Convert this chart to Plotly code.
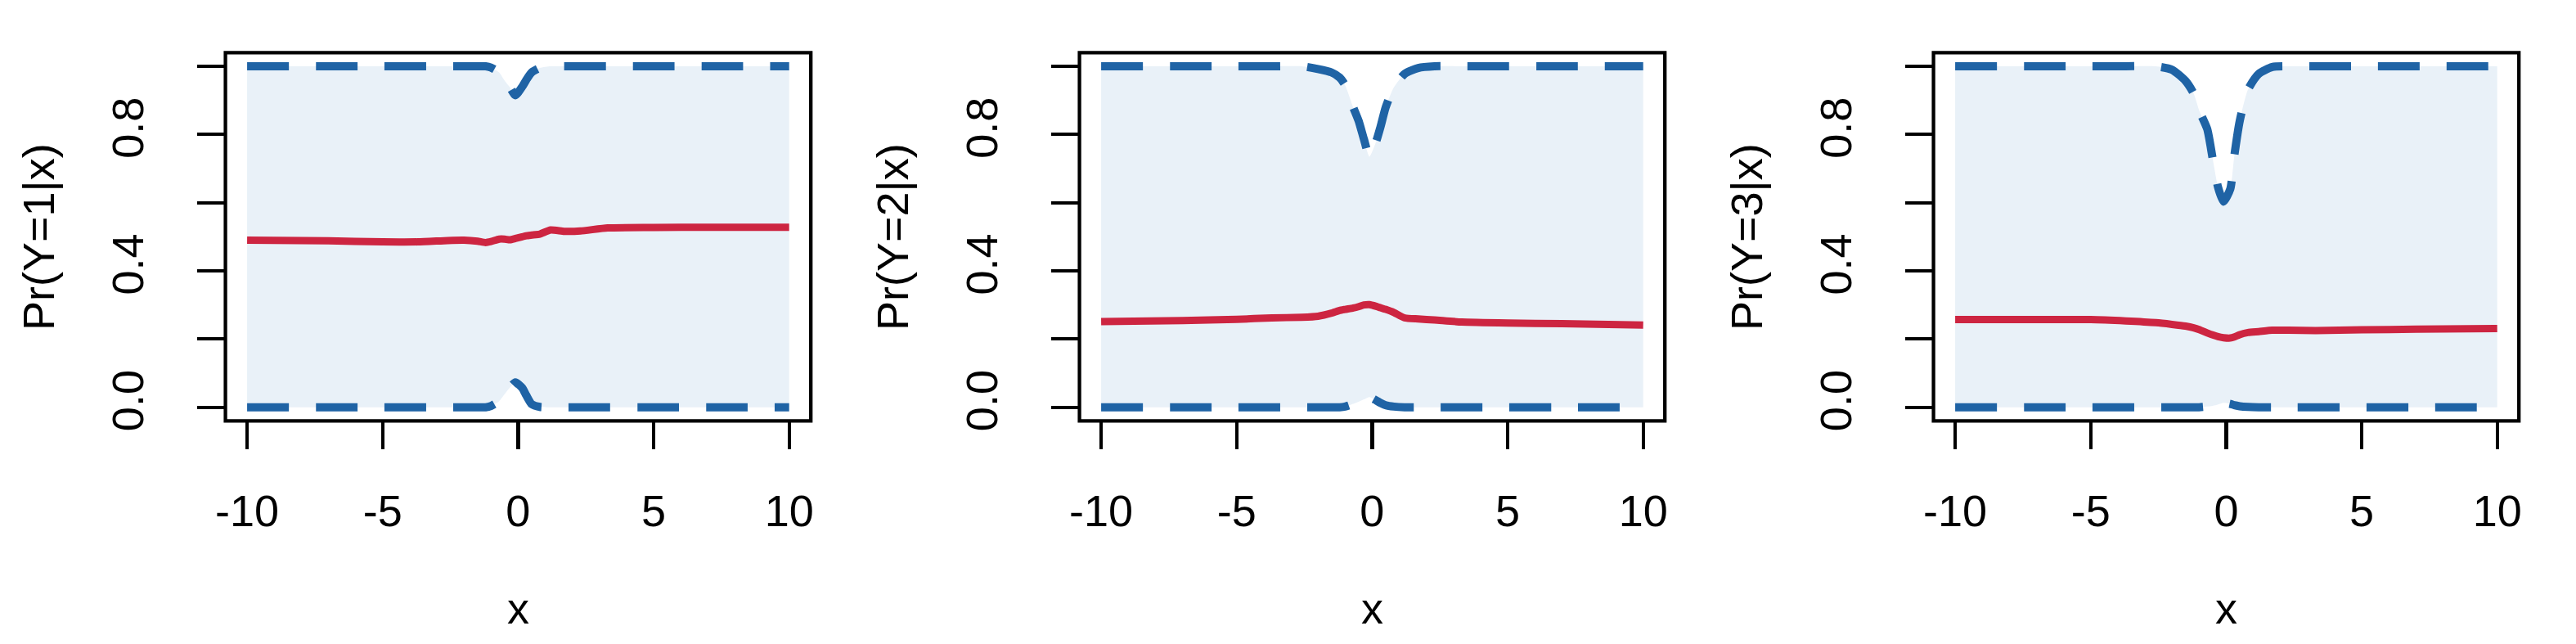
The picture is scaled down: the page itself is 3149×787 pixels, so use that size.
import plotly.graph_objects as go

# ---------------- data ----------------
x_grid = [-10, -7, -5, -3.7, -2.6, -2.0, -1.5, -1.2, -1.0, -0.7, -0.5, -0.3, -0.1,
          0.15, 0.3, 0.5, 0.8, 1.2, 1.7, 2.3, 3.3, 5, 7, 10]

mean_1 = [0.490, 0.488, 0.485, 0.485, 0.489, 0.490, 0.487, 0.483, 0.486, 0.493, 0.493, 0.491, 0.495,
          0.500, 0.503, 0.505, 0.508, 0.520, 0.516, 0.517, 0.526, 0.527, 0.528, 0.528]
upper_1 = [1.0, 1.0, 1.0, 1.0, 1.0, 1.0, 1.0, 1.0, 0.996, 0.982, 0.958, 0.938, 0.915,
           0.940, 0.960, 0.982, 0.995, 1.0, 1.0, 1.0, 1.0, 1.0, 1.0, 1.0]
lower_1 = [0.0, 0.0, 0.0, 0.0, 0.0, 0.0, 0.0, 0.0, 0.004, 0.018, 0.038, 0.058, 0.073,
           0.057, 0.035, 0.009, 0.001, 0.0, 0.0, 0.0, 0.0, 0.0, 0.0, 0.0]

mean_2 = [0.251, 0.254, 0.258, 0.262, 0.264, 0.267, 0.276, 0.284, 0.287, 0.291, 0.295, 0.300, 0.301,
          0.296, 0.292, 0.287, 0.278, 0.262, 0.259, 0.256, 0.250, 0.247, 0.245, 0.241]
upper_2 = [1.0, 1.0, 1.0, 1.0, 1.0, 0.992, 0.982, 0.967, 0.945, 0.880, 0.840, 0.785, 0.735,
           0.780, 0.820, 0.880, 0.938, 0.978, 0.995, 1.0, 1.0, 1.0, 1.0, 1.0]
lower_2 = [0.0, 0.0, 0.0, 0.0, 0.0, 0.0, 0.0, 0.0, 0.002, 0.010, 0.016, 0.023, 0.030,
           0.020, 0.013, 0.006, 0.002, 0.0, 0.0, 0.0, 0.0, 0.0, 0.0, 0.0]

mean_3 = [0.257, 0.257, 0.257, 0.253, 0.248, 0.243, 0.238, 0.233, 0.228, 0.218, 0.212, 0.207, 0.204,
          0.203, 0.206, 0.213, 0.219, 0.222, 0.226, 0.226, 0.225, 0.227, 0.229, 0.231]
upper_3 = [1.0, 1.0, 1.0, 1.0, 1.0, 0.990, 0.957, 0.920, 0.871, 0.816, 0.730, 0.645, 0.603,
           0.640, 0.738, 0.840, 0.931, 0.978, 0.998, 1.0, 1.0, 1.0, 1.0, 1.0]
lower_3 = [0.0, 0.0, 0.0, 0.0, 0.0, 0.0, 0.0, 0.0, 0.0, 0.002, 0.004, 0.008, 0.013,
           0.010, 0.006, 0.003, 0.001, 0.0, 0.0, 0.0, 0.0, 0.0, 0.0, 0.0]

y_titles = ["Pr(Y=1|x)", "Pr(Y=2|x)", "Pr(Y=3|x)"]
x_title = "x"
x_ticks = [-10, -5, 0, 5, 10]
x_ticklabels = ["-10", "-5", "0", "5", "10"]
y_ticks = [0.0, 0.2, 0.4, 0.6, 0.8, 1.0]
y_ticklabels = ["0.0", "", "0.4", "", "0.8", ""]

panels = [(mean_1, lower_1, upper_1), (mean_2, lower_2, upper_2), (mean_3, lower_3, upper_3)]

# ---------------- style ----------------
W, H = 3149, 787
FONT = "Liberation Sans, Arial, Helvetica, sans-serif"
FS = 54
BLUE = "#1F63A5"
RED = "#CD2541"
FILL = "#E9F1F8"
PANEL_STEP = 1049.67
BOX_L, BOX_R, BOX_T, BOX_B = 264.0, 983.5, 65.4, 523.0

fig = go.Figure()
layout = dict(
    width=W, height=H,
    margin=dict(l=0, r=0, t=0, b=0),
    paper_bgcolor="white", plot_bgcolor="white",
    showlegend=False,
    font=dict(family=FONT, size=FS, color="black"),
    shapes=[], annotations=[],
)

for i, (m, lo, up) in enumerate(panels):
    n = "" if i == 0 else str(i + 1)
    xa, ya = "x" + n, "y" + n
    common = dict(xaxis=xa, yaxis=ya, hoverinfo="skip")
    fig.add_trace(go.Scatter(x=x_grid, y=lo, mode="lines",
                             line=dict(width=0, shape="spline", smoothing=0.6), **common))
    fig.add_trace(go.Scatter(x=x_grid, y=up, mode="lines",
                             line=dict(width=0, shape="spline", smoothing=0.6),
                             fill="tonexty", fillcolor=FILL, **common))
    for band in (up, lo):
        fig.add_trace(go.Scatter(x=x_grid, y=band, mode="lines",
                                 line=dict(color=BLUE, width=10, dash="51px,33px",
                                           shape="spline", smoothing=0.6),
                                 **common))
    fig.add_trace(go.Scatter(x=x_grid, y=m, mode="lines",
                             line=dict(color=RED, width=9, shape="spline", smoothing=0.5), **common))

    off = i * PANEL_STEP
    xdom = [(BOX_L + off) / W, (BOX_R + off) / W]
    ydom = [1 - BOX_B / H, 1 - BOX_T / H]
    layout["xaxis" + n] = dict(domain=xdom, range=[-10.8, 10.8], anchor=ya,
                               tickmode="array", tickvals=x_ticks, ticktext=x_ticklabels,
                               ticks="outside", ticklen=34, tickwidth=4.3, tickcolor="black",
                               showgrid=False, zeroline=False, showline=False,
                               tickfont=dict(family=FONT, size=FS, color="black"),
                               ticklabelstandoff=29, fixedrange=True)
    layout["yaxis" + n] = dict(domain=ydom, range=[-0.04, 1.04], anchor=xa,
                               tickmode="array", tickvals=y_ticks, ticktext=y_ticklabels,
                               ticks="outside", ticklen=34, tickwidth=4.3, tickcolor="black",
                               tickangle=-90,
                               showgrid=False, zeroline=False, showline=False,
                               tickfont=dict(family=FONT, size=FS, color="black"),
                               ticklabelstandoff=44, fixedrange=True)
    layout["shapes"].append(dict(type="rect", xref=xa + " domain", yref=ya + " domain",
                                 x0=0, x1=1, y0=0, y1=1, line=dict(color="black", width=4.3),
                                 fillcolor="rgba(0,0,0,0)", layer="above"))
    layout["annotations"].append(dict(text=y_titles[i], xref="paper", yref="paper",
                                      x=(34 + off) / W, y=1 - 294 / H, xanchor="center", yanchor="middle",
                                      textangle=-90, showarrow=False,
                                      font=dict(family=FONT, size=FS, color="black")))
    layout["annotations"].append(dict(text=x_title, xref="paper", yref="paper",
                                      x=(623.7 + off) / W, y=1 - 755 / H, xanchor="center", yanchor="middle",
                                      showarrow=False,
                                      font=dict(family=FONT, size=FS, color="black")))

fig.update_layout(**layout)
fig.write_html("out.html",
               config={"displayModeBar": False, "staticPlot": True},
               post_script="document.body.style.margin='0px';document.body.style.padding='0px';"
                           "document.body.style.overflow='hidden';")
